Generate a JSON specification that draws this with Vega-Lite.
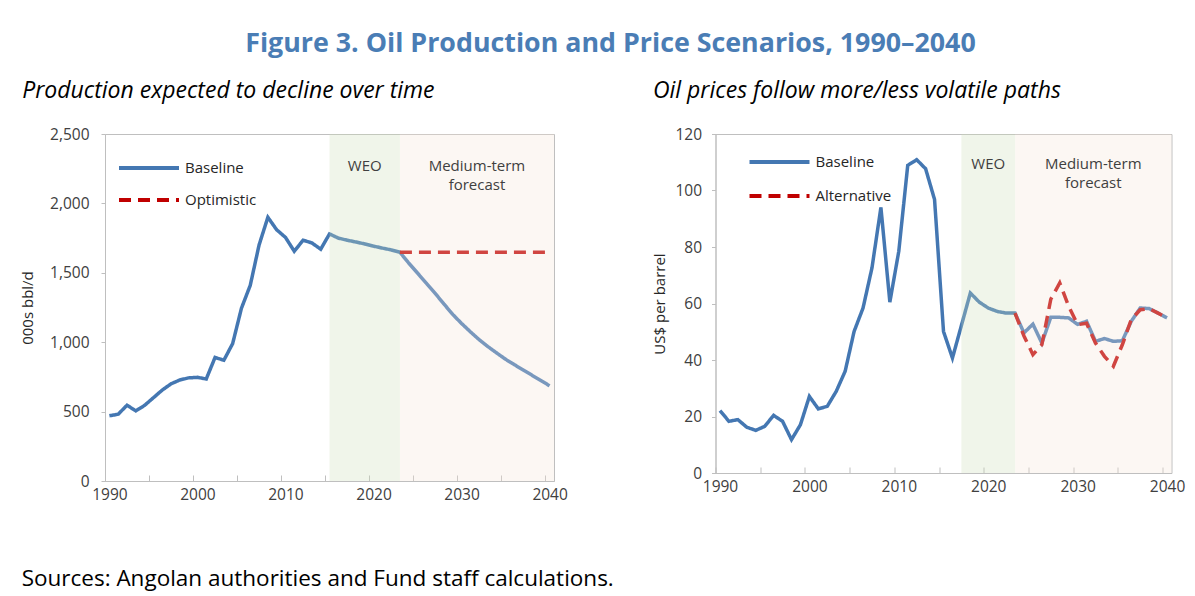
{
  "$schema": "https://vega.github.io/schema/vega-lite/v6.json",
  "background": "white",
  "padding": {"left": 19, "top": 30, "right": 0, "bottom": 0},
  "autosize": {"type": "pad"},
  "config": {
    "font": "Open Sans",
    "view": {"stroke": "#bfbfbf", "strokeWidth": 1},
    "axis": {"domainColor": "#bfbfbf", "tickColor": "#bfbfbf", "labelColor": "#404040", "labelFont": "Open Sans", "labelFontSize": 15.5, "titleFont": "Open Sans", "titleFontWeight": "normal", "titleFontSize": 15, "titleColor": "#262626", "grid": false},
    "legend": {"orient": "none", "title": null, "symbolType": "M-2,0H2", "symbolSize": 900, "symbolStrokeWidth": 4, "labelFontSize": 15, "labelFont": "Open Sans", "labelColor": "#262626", "padding": 0, "labelOffset": 19, "rowPadding": 7}
  },
  "datasets": {
    "prodBase": [
      {"year": 1990, "series": "Baseline", "value": 470}, {"year": 1991, "series": "Baseline", "value": 481}, {"year": 1992, "series": "Baseline", "value": 546}, {"year": 1993, "series": "Baseline", "value": 505}, {"year": 1994, "series": "Baseline", "value": 545},
      {"year": 1995, "series": "Baseline", "value": 600}, {"year": 1996, "series": "Baseline", "value": 655}, {"year": 1997, "series": "Baseline", "value": 700}, {"year": 1998, "series": "Baseline", "value": 728}, {"year": 1999, "series": "Baseline", "value": 743},
      {"year": 2000, "series": "Baseline", "value": 747}, {"year": 2001, "series": "Baseline", "value": 735}, {"year": 2002, "series": "Baseline", "value": 890}, {"year": 2003, "series": "Baseline", "value": 870}, {"year": 2004, "series": "Baseline", "value": 990},
      {"year": 2005, "series": "Baseline", "value": 1245}, {"year": 2006, "series": "Baseline", "value": 1410}, {"year": 2007, "series": "Baseline", "value": 1700}, {"year": 2008, "series": "Baseline", "value": 1900}, {"year": 2009, "series": "Baseline", "value": 1810},
      {"year": 2010, "series": "Baseline", "value": 1755}, {"year": 2011, "series": "Baseline", "value": 1655}, {"year": 2012, "series": "Baseline", "value": 1735}, {"year": 2013, "series": "Baseline", "value": 1715}, {"year": 2014, "series": "Baseline", "value": 1670},
      {"year": 2015, "series": "Baseline", "value": 1780}, {"year": 2016, "series": "Baseline", "value": 1750}, {"year": 2017, "series": "Baseline", "value": 1735}, {"year": 2018, "series": "Baseline", "value": 1722}, {"year": 2019, "series": "Baseline", "value": 1708},
      {"year": 2020, "series": "Baseline", "value": 1692}, {"year": 2021, "series": "Baseline", "value": 1678}, {"year": 2022, "series": "Baseline", "value": 1665}, {"year": 2023, "series": "Baseline", "value": 1648}, {"year": 2024, "series": "Baseline", "value": 1570},
      {"year": 2025, "series": "Baseline", "value": 1498}, {"year": 2026, "series": "Baseline", "value": 1425}, {"year": 2027, "series": "Baseline", "value": 1352}, {"year": 2028, "series": "Baseline", "value": 1275}, {"year": 2029, "series": "Baseline", "value": 1200},
      {"year": 2030, "series": "Baseline", "value": 1135}, {"year": 2031, "series": "Baseline", "value": 1075}, {"year": 2032, "series": "Baseline", "value": 1018}, {"year": 2033, "series": "Baseline", "value": 968}, {"year": 2034, "series": "Baseline", "value": 922},
      {"year": 2035, "series": "Baseline", "value": 877}, {"year": 2036, "series": "Baseline", "value": 838}, {"year": 2037, "series": "Baseline", "value": 800}, {"year": 2038, "series": "Baseline", "value": 762}, {"year": 2039, "series": "Baseline", "value": 724},
      {"year": 2040, "series": "Baseline", "value": 686}
    ],
    "prodOpt": [
      {"year": 2023, "series": "Optimistic", "value": 1648}, {"year": 2024, "series": "Optimistic", "value": 1648}, {"year": 2025, "series": "Optimistic", "value": 1648}, {"year": 2026, "series": "Optimistic", "value": 1648}, {"year": 2027, "series": "Optimistic", "value": 1648}, {"year": 2028, "series": "Optimistic", "value": 1648},
      {"year": 2029, "series": "Optimistic", "value": 1648}, {"year": 2030, "series": "Optimistic", "value": 1648}, {"year": 2031, "series": "Optimistic", "value": 1648}, {"year": 2032, "series": "Optimistic", "value": 1648}, {"year": 2033, "series": "Optimistic", "value": 1648}, {"year": 2034, "series": "Optimistic", "value": 1648},
      {"year": 2035, "series": "Optimistic", "value": 1648}, {"year": 2036, "series": "Optimistic", "value": 1648}, {"year": 2037, "series": "Optimistic", "value": 1648}, {"year": 2038, "series": "Optimistic", "value": 1648}, {"year": 2039, "series": "Optimistic", "value": 1648}, {"year": 2040, "series": "Optimistic", "value": 1648}
    ],
    "priceBase": [
      {"year": 1990, "series": "Baseline", "value": 22.1}, {"year": 1991, "series": "Baseline", "value": 18.3}, {"year": 1992, "series": "Baseline", "value": 18.9}, {"year": 1993, "series": "Baseline", "value": 16.2}, {"year": 1994, "series": "Baseline", "value": 15.1},
      {"year": 1995, "series": "Baseline", "value": 16.5}, {"year": 1996, "series": "Baseline", "value": 20.4}, {"year": 1997, "series": "Baseline", "value": 18.3}, {"year": 1998, "series": "Baseline", "value": 11.8}, {"year": 1999, "series": "Baseline", "value": 17.1},
      {"year": 2000, "series": "Baseline", "value": 27.1}, {"year": 2001, "series": "Baseline", "value": 22.7}, {"year": 2002, "series": "Baseline", "value": 23.6}, {"year": 2003, "series": "Baseline", "value": 28.9}, {"year": 2004, "series": "Baseline", "value": 36.0},
      {"year": 2005, "series": "Baseline", "value": 50.1}, {"year": 2006, "series": "Baseline", "value": 58.4}, {"year": 2007, "series": "Baseline", "value": 72.6}, {"year": 2008, "series": "Baseline", "value": 94.0}, {"year": 2009, "series": "Baseline", "value": 60.5},
      {"year": 2010, "series": "Baseline", "value": 78.5}, {"year": 2011, "series": "Baseline", "value": 108.9}, {"year": 2012, "series": "Baseline", "value": 110.9}, {"year": 2013, "series": "Baseline", "value": 107.7}, {"year": 2014, "series": "Baseline", "value": 96.8},
      {"year": 2015, "series": "Baseline", "value": 50.1}, {"year": 2016, "series": "Baseline", "value": 40.7}, {"year": 2017, "series": "Baseline", "value": 52.2}, {"year": 2018, "series": "Baseline", "value": 63.7}, {"year": 2019, "series": "Baseline", "value": 60.5},
      {"year": 2020, "series": "Baseline", "value": 58.4}, {"year": 2021, "series": "Baseline", "value": 57.2}, {"year": 2022, "series": "Baseline", "value": 56.6}, {"year": 2023, "series": "Baseline", "value": 56.6}, {"year": 2024, "series": "Baseline", "value": 49.6},
      {"year": 2025, "series": "Baseline", "value": 52.7}, {"year": 2026, "series": "Baseline", "value": 46.0}, {"year": 2027, "series": "Baseline", "value": 55.1}, {"year": 2028, "series": "Baseline", "value": 55.1}, {"year": 2029, "series": "Baseline", "value": 54.9},
      {"year": 2030, "series": "Baseline", "value": 52.6}, {"year": 2031, "series": "Baseline", "value": 53.7}, {"year": 2032, "series": "Baseline", "value": 46.6}, {"year": 2033, "series": "Baseline", "value": 47.6}, {"year": 2034, "series": "Baseline", "value": 46.6},
      {"year": 2035, "series": "Baseline", "value": 46.8}, {"year": 2036, "series": "Baseline", "value": 53.7}, {"year": 2037, "series": "Baseline", "value": 58.4}, {"year": 2038, "series": "Baseline", "value": 58.2}, {"year": 2039, "series": "Baseline", "value": 56.6},
      {"year": 2040, "series": "Baseline", "value": 54.9}
    ],
    "priceAlt": [
      {"year": 2023, "series": "Alternative", "value": 56.6}, {"year": 2024, "series": "Alternative", "value": 48.5}, {"year": 2025, "series": "Alternative", "value": 41.9}, {"year": 2026, "series": "Alternative", "value": 45.4}, {"year": 2027, "series": "Alternative", "value": 61.5}, {"year": 2028, "series": "Alternative", "value": 67.3},
      {"year": 2029, "series": "Alternative", "value": 59.0}, {"year": 2030, "series": "Alternative", "value": 52.5}, {"year": 2031, "series": "Alternative", "value": 53.0}, {"year": 2032, "series": "Alternative", "value": 46.0}, {"year": 2033, "series": "Alternative", "value": 41.3}, {"year": 2034, "series": "Alternative", "value": 37.8},
      {"year": 2035, "series": "Alternative", "value": 45.4}, {"year": 2036, "series": "Alternative", "value": 54.3}, {"year": 2037, "series": "Alternative", "value": 57.8}, {"year": 2038, "series": "Alternative", "value": 58.2}, {"year": 2039, "series": "Alternative", "value": 56.6}, {"year": 2040, "series": "Alternative", "value": 54.9}
    ],
    "prodZones": [
      {"zone": "WEO", "start": 2015, "end": 2023},
      {"zone": "Medium-term\nforecast", "start": 2023, "end": 2040.5}
    ],
    "priceZones": [
      {"zone": "WEO", "start": 2017, "end": 2023},
      {"zone": "Medium-term\nforecast", "start": 2023, "end": 2040.5}
    ]
  },
  "title": {"text": "Figure 3. Oil Production and Price Scenarios, 1990–2040", "fontSize": 26.8, "fontWeight": "bold", "color": "#4a7db5", "anchor": "middle", "offset": 22, "dx": 8},
  "vconcat": [
    {
      "title": {"text": "Sources: Angolan authorities and Fund staff calculations.", "orient": "bottom", "anchor": "start", "frame": "bounds", "fontSize": 22.5, "fontWeight": "normal", "color": "#000000", "offset": 65, "dx": 2},
      "spacing": 83.5,
      "resolve": {"scale": {"color": "independent", "strokeDash": "independent", "fill": "independent"}},
      "hconcat": [
        {
          "width": 449,
          "height": 347,
          "title": {"text": "Production expected to decline over time", "anchor": "start", "frame": "bounds", "fontStyle": "italic", "fontWeight": "normal", "fontSize": 23, "color": "#000000", "offset": 24, "dx": 2},
          "layer": [
            {
              "data": {"name": "prodBase"},
              "mark": {"type": "line", "strokeWidth": 3.5},
              "encoding": {
                "x": {"field": "year", "type": "quantitative", "scale": {"domain": [1989.5, 2040.5], "nice": false, "zero": false},
                  "axis": {"title": null, "values": [1989.5, 1994.5, 1999.5, 2004.5, 2009.5, 2014.5, 2019.5, 2024.5, 2029.5, 2034.5, 2039.5], "labelExpr": "(datum.value - 1989.5) % 10 == 0 ? format(datum.value + 0.5, 'd') : ''", "labelOffset": 4.4, "tickSize": -6, "labelPadding": 12, "labelFlush": false, "labelOverlap": false, "labelBound": false}},
                "y": {"field": "value", "type": "quantitative", "scale": {"domain": [0, 2500], "nice": false},
                  "axis": {"title": "000s bbl/d", "values": [0, 500, 1000, 1500, 2000, 2500], "format": ",d", "tickSize": 4, "labelPadding": 12, "titlePadding": 14.4}},
                "color": {"field": "series", "type": "nominal", "scale": {"domain": ["Baseline", "Optimistic"], "range": ["#4477b2", "#c00000"]}, "legend": {"legendX": 27, "legendY": 17}},
                "strokeDash": {"field": "series", "type": "nominal", "scale": {"domain": ["Baseline", "Optimistic"], "range": [[1, 0], [12, 7]]}, "legend": {"legendX": 27, "legendY": 17}}
              }
            },
            {
              "data": {"name": "prodOpt"},
              "mark": {"type": "line", "strokeWidth": 3.5},
              "encoding": {
                "x": {"field": "year", "type": "quantitative"},
                "y": {"field": "value", "type": "quantitative"},
                "color": {"field": "series", "type": "nominal"},
                "strokeDash": {"field": "series", "type": "nominal"}
              }
            },
            {
              "data": {"name": "prodZones"},
              "mark": {"type": "rect", "opacity": 0.3},
              "encoding": {
                "x": {"field": "start", "type": "quantitative"},
                "x2": {"field": "end"},
                "fill": {"field": "zone", "type": "nominal", "scale": {"domain": ["WEO", "Medium-term\nforecast"], "range": ["#cddeb9", "#f5e4d7"]}, "legend": null}
              }
            },
            {
              "data": {"name": "prodZones"},
              "transform": [
                {"fold": ["start", "end"], "as": ["edge", "yr"]},
                {"aggregate": [{"op": "mean", "field": "yr", "as": "mid"}], "groupby": ["zone"]}
              ],
              "mark": {"type": "text", "baseline": "top", "align": "center", "fontSize": 15, "color": "#404040", "lineBreak": "\n", "lineHeight": 19},
              "encoding": {
                "x": {"field": "mid", "type": "quantitative"},
                "y": {"datum": 2320},
                "text": {"field": "zone"}
              }
            }
          ]
        },
        {
          "width": 456,
          "height": 339,
          "title": {"text": "Oil prices follow more/less volatile paths", "anchor": "start", "frame": "bounds", "fontStyle": "italic", "fontWeight": "normal", "fontSize": 23, "color": "#000000", "offset": 24},
          "layer": [
            {
              "data": {"name": "priceBase"},
              "mark": {"type": "line", "strokeWidth": 3.5},
              "encoding": {
                "x": {"field": "year", "type": "quantitative", "scale": {"domain": [1989.5, 2040.5], "nice": false, "zero": false},
                  "axis": {"title": null, "values": [1989.5, 1994.5, 1999.5, 2004.5, 2009.5, 2014.5, 2019.5, 2024.5, 2029.5, 2034.5, 2039.5], "labelExpr": "(datum.value - 1989.5) % 10 == 0 ? format(datum.value + 0.5, 'd') : ''", "labelOffset": 4.5, "tickSize": -6, "labelPadding": 12, "labelFlush": false, "labelOverlap": false, "labelBound": false}},
                "y": {"field": "value", "type": "quantitative", "scale": {"domain": [0, 120], "nice": false},
                  "axis": {"title": "US$ per barrel", "values": [0, 20, 40, 60, 80, 100, 120], "tickSize": 4, "labelPadding": 10, "titlePadding": 7}},
                "color": {"field": "series", "type": "nominal", "scale": {"domain": ["Baseline", "Alternative"], "range": ["#4477b2", "#c00000"]}, "legend": {"legendX": 47, "legendY": 11, "rowPadding": 9}},
                "strokeDash": {"field": "series", "type": "nominal", "scale": {"domain": ["Baseline", "Alternative"], "range": [[1, 0], [12, 7]]}, "legend": {"legendX": 47, "legendY": 11, "rowPadding": 9}}
              }
            },
            {
              "data": {"name": "priceAlt"},
              "mark": {"type": "line", "strokeWidth": 3.5},
              "encoding": {
                "x": {"field": "year", "type": "quantitative"},
                "y": {"field": "value", "type": "quantitative"},
                "color": {"field": "series", "type": "nominal"},
                "strokeDash": {"field": "series", "type": "nominal"}
              }
            },
            {
              "data": {"name": "priceZones"},
              "mark": {"type": "rect", "opacity": 0.3},
              "encoding": {
                "x": {"field": "start", "type": "quantitative"},
                "x2": {"field": "end"},
                "fill": {"field": "zone", "type": "nominal", "scale": {"domain": ["WEO", "Medium-term\nforecast"], "range": ["#cddeb9", "#f5e4d7"]}, "legend": null}
              }
            },
            {
              "data": {"name": "priceZones"},
              "transform": [
                {"fold": ["start", "end"], "as": ["edge", "yr"]},
                {"aggregate": [{"op": "mean", "field": "yr", "as": "mid"}], "groupby": ["zone"]}
              ],
              "mark": {"type": "text", "baseline": "top", "align": "center", "fontSize": 15, "color": "#404040", "lineBreak": "\n", "lineHeight": 19},
              "encoding": {
                "x": {"field": "mid", "type": "quantitative"},
                "y": {"datum": 112},
                "text": {"field": "zone"}
              }
            }
          ]
        }
      ]
    }
  ]
}
